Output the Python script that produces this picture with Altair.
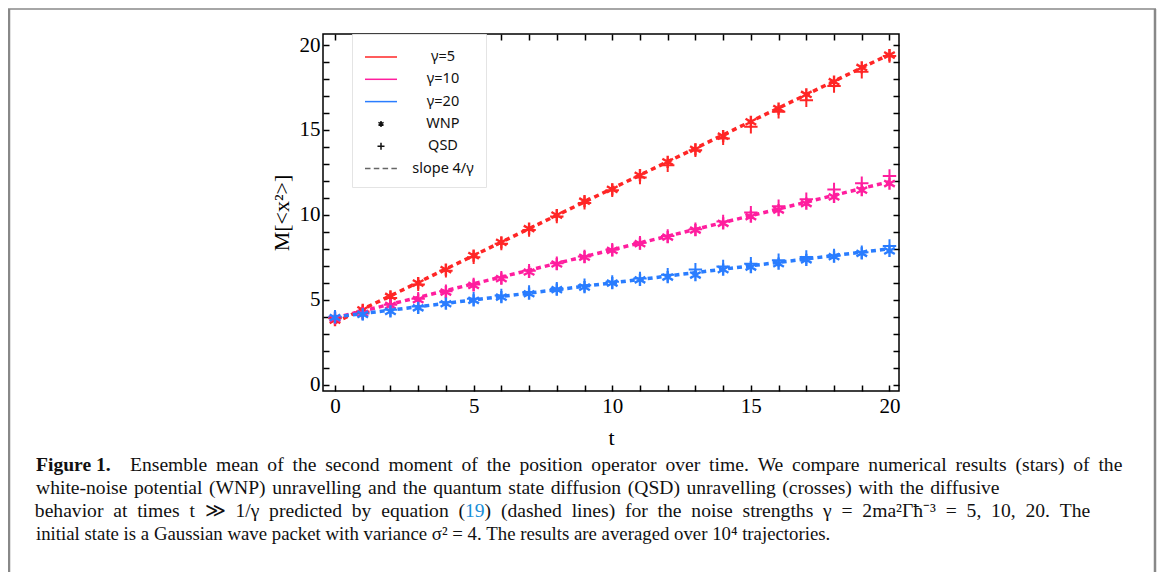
import altair as alt
import pandas as pd

# ---------------- data ----------------
t_vals = list(range(21))

red_wnp = [3.80, 4.40, 5.19, 5.98, 6.77, 7.60, 8.38, 9.18, 9.98, 10.80, 11.50,
           12.33, 13.12, 13.86, 14.63, 15.48, 16.26, 17.09, 17.84, 18.68, 19.41]
red_qsd = [3.90, 4.30, 5.10, 5.90, 6.70, 7.50, 8.30, 9.10, 9.90, 10.70, 11.45,
           12.20, 12.92, 13.80, 14.50, 15.18, 16.07, 16.75, 17.58, 18.43, 19.35]
pink_wnp = [3.90, 4.20, 4.66, 5.00, 5.45, 5.84, 6.24, 6.63, 7.10, 7.50, 7.90,
            8.30, 8.69, 9.10, 9.50, 9.89, 10.28, 10.66, 11.05, 11.45, 11.84]
pink_qsd = [3.95, 4.25, 4.70, 5.05, 5.50, 5.90, 6.30, 6.70, 7.15, 7.55, 7.95,
            8.35, 8.75, 9.15, 9.60, 10.13, 10.50, 10.92, 11.49, 11.86, 12.29]
blue_wnp = [3.95, 4.13, 4.31, 4.52, 4.76, 4.96, 5.15, 5.35, 5.59, 5.74, 5.98,
            6.17, 6.33, 6.45, 6.77, 6.92, 7.12, 7.35, 7.53, 7.73, 7.87]
blue_qsd = [4.00, 4.18, 4.40, 4.60, 4.85, 5.05, 5.25, 5.45, 5.65, 5.85, 6.05,
            6.25, 6.47, 6.77, 6.96, 7.12, 7.32, 7.51, 7.60, 7.80, 8.16]

line_t = [0, 20]
red_line = [3.65, 19.45]
pink_line = [3.93, 11.95]
blue_line = [3.98, 8.00]

gammas = ["5", "10", "20"]
colors = ["#FF2626", "#FF1E9E", "#2A7DFF"]

tick_vals = list(range(21))

legend_labels = ["γ=5", "γ=10", "γ=20", "WNP", "QSD", "slope 4/γ"]
legend_colors = ["#FF2626", "#FF1E9E", "#2A7DFF", "#111111", "#111111", "#666666"]

caption1_bold = "Figure 1."
caption1 = ("Ensemble mean of the second moment of the position operator over time. "
            "We compare numerical results (stars) of the")
caption2 = ("white-noise potential (WNP) unravelling and the quantum state diffusion (QSD) "
            "unravelling (crosses) with the diffusive")
caption3a = "behavior at times t ≫ 1/γ predicted by equation ("
caption3b = "19"
caption3c = ") (dashed lines) for the noise strengths γ = 2ma²Γħ⁻³ = 5, 10, 20. The"
caption4 = ("initial state is a Gaussian wave packet with variance σ² = 4. "
            "The results are averaged over 10⁴ trajectories.")

# ---------------- tables ----------------
rows = []
for g, wnp, qsd in zip(gammas, [red_wnp, pink_wnp, blue_wnp], [red_qsd, pink_qsd, blue_qsd]):
    for t, a, b in zip(t_vals, wnp, qsd):
        rows.append({"t": t, "wnp": a, "qsd": b, "gamma": g})
pts_df = pd.DataFrame(rows)

lrows = []
for g, vals in zip(gammas, [red_line, pink_line, blue_line]):
    for t, v in zip(line_t, vals):
        lrows.append({"t": t, "v": v, "gamma": g})
lines_df = pd.DataFrame(lrows)

leg_df = pd.DataFrame({"label": legend_labels})
one = pd.DataFrame({"a": [0]})

# ---------------- styles ----------------
SERIF = "Liberation Serif"
STAR = "M0,-1L0,1M-0.87,-0.5L0.87,0.5M-0.87,0.5L0.87,-0.5"
PLUS = "M-1,0L1,0M0,-1L0,1"
legend_shapes = [
    "M-1.6,0L1.6,0",
    "M-1.6,0L1.6,0",
    "M-1.6,0L1.6,0",
    "M0,-0.3L0,0.3M-0.26,-0.15L0.26,0.15M-0.26,0.15L0.26,-0.15",
    "M-0.35,0L0.35,0M0,-0.35L0,0.35",
    "M-1.6,0L-1.05,0M-0.72,0L-0.17,0M0.16,0L0.71,0M1.04,0L1.59,0",
]

xs = alt.Scale(domain=[-0.433, 20.343], nice=False, zero=False)
ys = alt.Scale(domain=[-0.38, 20.65], nice=False, zero=False)
cs = alt.Scale(domain=gammas, range=colors)

lab_expr = "datum.value % 5 == 0 ? datum.label : ''"
common = dict(values=tick_vals, offset=-6, tickSize=6, domain=False, grid=False,
              tickColor="black", tickWidth=1.5)

x_bottom = alt.Axis(orient="bottom", labelExpr=lab_expr, labelFont=SERIF, labelFontSize=21,
                    labelColor="black", labelPadding=4, labelOverlap=False, labelFlush=False,
                    title="t", titleFont=SERIF, titleFontSize=22, titleFontWeight="normal",
                    titleColor="black", titlePadding=11, **common)
y_left = alt.Axis(orient="left", labelExpr=lab_expr, labelFont=SERIF, labelFontSize=21,
                  labelColor="black", labelPadding=3, labelOverlap=False, labelFlush=False,
                  title="M[<x²>]", titleFont=SERIF, titleFontSize=22, titleFontWeight="normal",
                  titleColor="black", titlePadding=6, **common)
x_top = alt.Axis(orient="top", labels=False, title=None, **common)
y_right = alt.Axis(orient="right", labels=False, title=None, **common)

lines = alt.Chart(lines_df).mark_line(strokeDash=[5, 4], strokeWidth=3.5).encode(
    x=alt.X("t:Q", scale=xs, axis=x_bottom),
    y=alt.Y("v:Q", scale=ys, axis=y_left),
    color=alt.Color("gamma:N", scale=cs, legend=None),
    detail="gamma:N",
)

crosses = alt.Chart(pts_df).mark_point(shape=PLUS, size=180, filled=False, strokeWidth=2, opacity=1).encode(
    x=alt.X("t:Q", scale=xs, axis=None),
    y=alt.Y("qsd:Q", scale=ys, axis=None),
    color=alt.Color("gamma:N", scale=cs, legend=None),
)

stars = alt.Chart(pts_df).mark_point(shape=STAR, size=150, filled=False, strokeWidth=2.4, opacity=1).encode(
    x=alt.X("t:Q", scale=xs, axis=x_top),
    y=alt.Y("wnp:Q", scale=ys, axis=y_right),
    color=alt.Color("gamma:N", scale=cs, legend=None),
)

leg = alt.Legend(orient="none", legendX=29, legendY=0, padding=12, title=None,
                 strokeColor="#e4e4e4", fillColor="white",
                 labelFont="Noto Sans", labelFontSize=14.5, labelColor="#111111",
                 labelAlign="center", labelOffset=51, symbolOffset=6,
                 symbolSize=400, symbolStrokeWidth=1.5, rowPadding=4.3)

legend_layer = alt.Chart(leg_df).mark_point(filled=False, strokeWidth=1.5, clip=True, opacity=1).encode(
    x=alt.value(-200), y=alt.value(-200),
    color=alt.Color("label:N", scale=alt.Scale(domain=legend_labels, range=legend_colors), legend=leg),
    shape=alt.Shape("label:N", scale=alt.Scale(domain=legend_labels, range=legend_shapes), legend=leg),
)

# figure frame (grey box around the figure)
frame_left = alt.Chart(one).mark_rule(color="#888888", strokeWidth=2.5).encode(
    x=alt.value(-314), y=alt.value(-25), y2=alt.value(560))
frame_right = alt.Chart(one).mark_rule(color="#888888", strokeWidth=2.5).encode(
    x=alt.value(832), y=alt.value(-25), y2=alt.value(560))
frame_top = alt.Chart(one).mark_rule(color="#888888", strokeWidth=1.5).encode(
    x=alt.value(-315), x2=alt.value(833), y=alt.value(-25))


def spaced(s, sep):
    return s.replace(" ", sep)


def txt(s, x, y, align="left", weight="normal", color="#111111", size=19.6):
    return alt.Chart(one).mark_text(text=s, align=align, baseline="middle", font=SERIF,
                                    fontSize=size, fontWeight=weight, color=color).encode(
        x=alt.value(x), y=alt.value(y))


NB = " \u00a0"
TH = " \u2009"
HA = " \u200a"
cx = -287
caption = [
    txt(caption1_bold, cx, 431, weight="bold"),
    txt(spaced(caption1, TH), cx + 94, 431),
    txt(spaced(caption2, HA), cx, 454),
    txt(spaced(caption3a, NB), 142, 477, align="right"),
    txt(caption3b, 142, 477, color="#1A8FD8"),
    txt(spaced(caption3c, NB), 161.6, 477),
    txt(caption4, cx, 500, size=18.8),
]

chart = alt.layer(
    lines, crosses, stars, legend_layer, frame_left, frame_right, frame_top, *caption
).resolve_scale(
    color="independent", shape="independent"
).resolve_axis(
    x="independent", y="independent"
).properties(
    width=576, height=357,
    autosize=alt.AutoSizeParams(type="none"),
    padding={"left": 315, "top": 26, "right": 258, "bottom": 181},
    background="white",
).configure_view(stroke="black", strokeWidth=1.5)

chart.save("out.html", embed_options={"renderer": "svg", "actions": False})
